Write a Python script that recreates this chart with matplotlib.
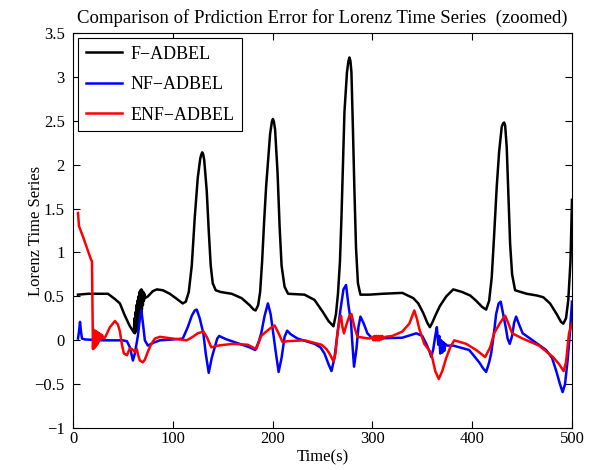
import numpy as np
import matplotlib
matplotlib.use("Agg")
import matplotlib.pyplot as plt

# values
t_f = [5, 15, 25, 35, 42, 47, 52, 57, 61,
       61.5, 62, 62.5, 63, 63.5, 64, 64.5, 65, 65.5, 66, 66.5, 67, 67.5, 68,
       68.5, 69, 69.5, 70, 70.5, 71, 71.5, 72,
       75, 80, 84, 90, 97, 103, 110, 113, 116, 119, 122, 125, 127.5, 128.7,
       129.5, 130.4, 131.5, 134, 136, 138, 140, 143, 148, 159, 169, 177, 181,
       183, 185.5, 187.5, 189.5, 191.5, 193.5, 195.5, 197.5, 199.3, 200.3,
       201.3, 202.5, 205, 207, 209, 212, 215.5, 232, 242, 250.5, 256, 261,
       263.5, 265.5, 267.5, 269, 270.5, 272, 274.5, 276, 277, 278, 279, 280.5,
       282, 283.6, 285.5, 288, 297, 310, 330, 341, 346, 351, 355, 357.6, 360,
       363, 367.6, 374, 381, 390, 398, 404, 410, 414, 417, 419.6, 422, 424.6,
       427, 429.6, 431, 432, 433, 434.6, 436.5, 438, 440, 443, 454.6, 465,
       471.3, 478, 484.6, 489, 491.3, 494, 496.3, 498.5, 500]
v_f = [0.52, 0.53, 0.53, 0.53, 0.47, 0.42, 0.28, 0.16, 0.09,
       0.25, 0.08, 0.32, 0.1, 0.4, 0.12, 0.45, 0.15, 0.5, 0.2, 0.55, 0.25,
       0.57, 0.3, 0.58, 0.35, 0.56, 0.4, 0.55, 0.45, 0.53, 0.48,
       0.5, 0.56, 0.58, 0.57, 0.53, 0.48, 0.42, 0.44, 0.55, 0.85, 1.4, 1.85,
       2.07, 2.12, 2.14, 2.12, 2.05, 1.7, 1.25, 0.85, 0.65, 0.57, 0.55, 0.53,
       0.48, 0.40, 0.35, 0.34, 0.40, 0.55, 0.9, 1.35, 1.75, 2.05, 2.35, 2.49,
       2.52, 2.49, 2.4, 1.9, 1.3, 0.85, 0.61, 0.53, 0.52, 0.46, 0.32, 0.22,
       0.16, 0.3, 0.53, 0.9, 1.4, 2.0, 2.6, 3.05, 3.18, 3.22, 3.18, 3.05,
       2.4, 1.7, 1.05, 0.65, 0.52, 0.52, 0.53, 0.54, 0.48, 0.42, 0.31, 0.2,
       0.15, 0.2, 0.28, 0.39, 0.5, 0.58, 0.55, 0.51, 0.45, 0.38, 0.35, 0.45,
       0.72, 1.2, 1.75, 2.15, 2.43, 2.47, 2.48, 2.45, 2.2, 1.6, 1.1, 0.75,
       0.57, 0.53, 0.51, 0.49, 0.42, 0.30, 0.21, 0.19, 0.25, 0.46, 0.9, 1.6]

t_nf = [5, 6, 7, 8, 9, 12, 30, 50, 54, 57, 60, 62, 63.5, 65, 67, 68.5, 70,
        72, 75, 80, 87, 100, 110, 115, 119, 122, 124, 127, 130.6, 133, 136,
        139, 142, 144.5, 146.5, 150, 154, 167, 177, 182.6, 186, 188.6, 192,
        195.3, 198, 200.3, 203, 206, 209, 212, 214.6, 218, 225, 242, 248, 252,
        256, 259, 262, 265, 268, 271, 273.6, 276, 278.6, 280, 281.6, 284, 286,
        288, 291, 295, 300, 330, 344, 350, 354, 357, 359, 361, 363, 364.6, 366,
        367, 368, 369, 370, 371, 372, 373, 375, 381, 397, 407, 411, 414, 417,
        419, 422, 424, 426.5, 428.6, 431, 433.6, 435.5, 437.6, 440, 442, 444,
        447, 450.6, 460.6, 474, 480, 484, 488, 490.6, 493, 495.6, 498, 500]
v_nf = [0.02, 0.1, 0.21, 0.1, 0.02, 0.01, 0.0, 0.0, -0.01, -0.08, -0.23,
        -0.15, -0.05, 0.05, 0.25, 0.34, 0.2, 0.0, -0.06, -0.03, 0.0, 0.01,
        0.02, 0.15, 0.28, 0.34, 0.35, 0.25, 0.08, -0.15, -0.37, -0.2, -0.08,
        0.02, 0.05, 0.03, 0.01, -0.04, -0.08, -0.11, -0.02, 0.08, 0.28, 0.42,
        0.3, 0.11, -0.12, -0.36, -0.2, 0.04, 0.11, 0.07, 0.02, -0.04, -0.08,
        -0.15, -0.27, -0.35, -0.2, 0.08, 0.35, 0.58, 0.63, 0.4, 0.2, -0.05,
        -0.3, -0.1, 0.15, 0.27, 0.2, 0.08, 0.02, 0.03, 0.08, 0.05, -0.04,
        -0.12, -0.19, -0.1, 0.05, 0.15, -0.05, 0.05, -0.15, 0.0, -0.14, -0.02,
        -0.12, -0.04, -0.06, -0.06, -0.11, -0.25, -0.32, -0.36, -0.25, -0.15,
        0.1, 0.3, 0.42, 0.44, 0.3, 0.15, 0.02, -0.04, 0.05, 0.2, 0.27, 0.18,
        0.08, 0.0, -0.11, -0.2, -0.34, -0.5, -0.59, -0.5, -0.23, 0.1, 0.44]

t_enf = [5, 6, 10, 14, 18, 19, 19.5, 20, 20.7, 21.4, 22.1, 22.8, 23.5, 24.2,
         24.9, 25.6, 26.3, 27, 27.7, 28.4, 29.1, 30, 32, 37, 42, 45, 47, 49,
         51, 54, 57, 59, 62, 64, 65, 67, 70, 72, 75, 78, 82, 87, 100, 114,
         120, 125, 130.6, 134, 138.6, 145, 160, 175, 183.6, 188.6, 193.6, 198,
         202, 206, 210, 215, 232, 249, 254, 257, 261, 263, 265, 267, 268.6,
         270, 271.5, 274, 277, 279, 282, 285, 297, 300, 301, 302, 303, 304,
         305, 306, 307, 308, 309, 310, 311, 313, 320, 330, 337, 340, 342,
         344.5, 347, 352, 356, 359, 363, 366.5, 370, 374, 378, 382, 394, 404,
         413, 418, 422, 428, 433, 436, 440, 450.6, 467, 481, 487, 491.6, 494,
         497, 500]
v_enf = [1.45, 1.3, 1.18, 1.05, 0.92, 0.9, 0.4, -0.1, 0.12, -0.09, 0.11,
         -0.07, 0.1, -0.05, 0.09, -0.02, 0.08, 0.0, 0.07, 0.02, 0.06, 0.03,
         0.03, 0.15, 0.22, 0.18, 0.1, -0.05, -0.15, -0.17, -0.09, -0.1, -0.13,
         -0.1, -0.16, -0.23, -0.25, -0.22, -0.13, -0.05, 0.02, 0.04, 0.02, 0.0,
         0.04, 0.08, 0.1, 0.04, -0.08, -0.06, -0.04, -0.05, -0.1, 0.05, 0.1,
         0.14, 0.17, 0.08, -0.02, -0.01, 0.0, -0.05, -0.1, -0.15, -0.24,
         -0.15, 0.08, 0.22, 0.28, 0.15, 0.08, 0.18, 0.28, 0.3, 0.15, 0.04,
         0.02, 0.04, 0.0, 0.05, 0.0, 0.05, 0.0, 0.05, 0.0, 0.05, 0.01, 0.05,
         0.02, 0.04, 0.05, 0.1, 0.19, 0.28, 0.34, 0.25, 0.13, -0.04, -0.1,
         -0.15, -0.35, -0.44, -0.35, -0.2, -0.08, 0.0, -0.04, -0.11, -0.19,
         -0.08, 0.08, 0.2, 0.28, 0.2, 0.08, 0.02, -0.06, -0.19, -0.27, -0.35,
         -0.25, 0.08, 0.19]

labels = ["F\u2212ADBEL", "NF\u2212ADBEL", "ENF\u2212ADBEL"]
xticks = [0, 100, 200, 300, 400, 500]
yticks = [-1, -0.5, 0, 0.5, 1, 1.5, 2, 2.5, 3, 3.5]

plt.rcParams['font.family'] = ['Liberation Serif', 'DejaVu Serif']
plt.rcParams['font.size'] = 12

fig = plt.figure(figsize=(5.97, 4.70), dpi=100)
ax = fig.add_axes([0.1223, 0.089, 0.8358, 0.841])

ax.plot(t_f, v_f, color='k', lw=1.8, label=labels[0])
ax.plot(t_nf, v_nf, color='b', lw=1.8, label=labels[1])
ax.plot(t_enf, v_enf, color='r', lw=1.8, label=labels[2])

ax.set_xlim(0, 500)
ax.set_ylim(-1, 3.5)
ax.set_xticks(xticks)
ax.set_yticks(yticks)
ax.set_yticklabels([("%g" % y).replace("-", "\u2212") for y in yticks])
ax.tick_params(direction='in', top=True, right=True, length=5, width=0.8)
ax.tick_params(axis='x', pad=2)
ax.tick_params(axis='y', pad=6)
for s in ax.spines.values():
    s.set_linewidth(0.8)

ax.set_title("Comparison of Prdiction Error for Lorenz Time Series  (zoomed)", fontsize=13.5, pad=7)
ax.set_xlabel("Time(s)", labelpad=2)
ax.set_ylabel("Lorenz Time Series")
ax.yaxis.set_label_coords(-0.058, 0.5)

leg = ax.legend(loc='upper left', fancybox=False, framealpha=1, edgecolor='k',
                borderaxespad=0.3, handlelength=2.0, handletextpad=0.5,
                labelspacing=0.75, fontsize=13)
leg.get_frame().set_linewidth(0.8)

fig.savefig("out.png", dpi=100)
